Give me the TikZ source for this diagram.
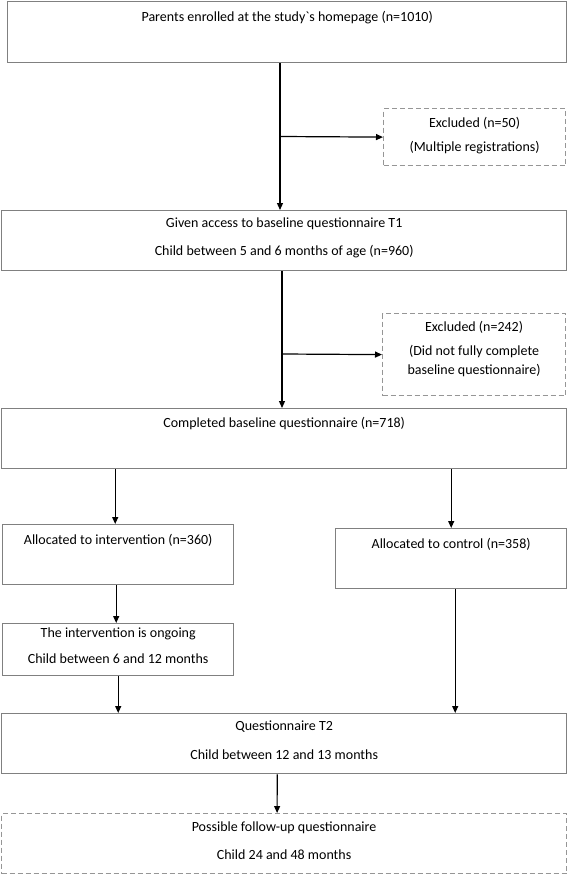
\documentclass[tikz,border=0pt]{standalone}
\usepackage{fontspec}
\setmainfont{Carlito}
\usepackage{tikz}
\usetikzlibrary{arrows.meta,positioning}
\definecolor{boxGray}{RGB}{128,128,128}
\definecolor{dashGray}{RGB}{150,150,150}

\begin{document}
\begin{tikzpicture}[x=1pt, y=-1pt,
  box/.style={draw=boxGray, line width=1.4pt, anchor=north west, inner sep=0pt},
  dbox/.style={draw=dashGray, line width=1.2pt, dash pattern=on 5pt off 3pt, anchor=north west, inner sep=0pt},
  lbl/.style={font=\fontsize{14}{16}\selectfont, inner sep=0pt},
  arr/.style={-{Triangle[length=7pt,width=6pt]}, line width=1.2pt}]
\useasboundingbox (0,0) rectangle (568,875);

\node[box, minimum width=559pt, minimum height=61pt] (enrol) at (7,1) {};
\node[lbl] (enrolT) at ([yshift=-17pt]enrol.north) {Parents enrolled at the study\textasciigrave s homepage (n=1010)};

\node[dbox, minimum width=182pt, minimum height=57pt] (excl1) at (383,108) {};
\node[lbl] (excl1A) at ([yshift=-15pt]excl1.north) {Excluded (n=50)};
\node[lbl] (excl1B) at ([yshift=-40pt]excl1.north) {(Multiple registrations)};

\node[box, minimum width=565pt, minimum height=60pt] (access) at (1,210) {};
\node[lbl] (accessA) at ([yshift=-14pt]access.north) {Given access to baseline questionnaire T1};
\node[lbl] (accessB) at ([yshift=-42pt]access.north) {Child between 5 and 6 months of age (n=960)};

\node[dbox, minimum width=183pt, minimum height=82pt] (excl2) at (382,313) {};
\node[lbl] (excl2A) at ([yshift=-14pt]excl2.north) {Excluded (n=242)};
\node[lbl] (excl2B) at ([yshift=-39pt]excl2.north) {(Did not fully complete};
\node[lbl] (excl2C) at ([yshift=-58pt]excl2.north) {baseline questionnaire)};

\node[box, minimum width=565pt, minimum height=60pt] (baseline) at (1,408) {};
\node[lbl] (baselineT) at ([yshift=-16pt]baseline.north) {Completed baseline questionnaire (n=718)};

\node[box, minimum width=231pt, minimum height=60pt] (interv) at (2,524) {};
\node[lbl] (intervT) at ([yshift=-16pt]interv.north) {Allocated to intervention (n=360)};

\node[box, minimum width=231pt, minimum height=60pt] (control) at (335,528) {};
\node[lbl] (controlT) at ([yshift=-16pt]control.north) {Allocated to control (n=358)};

\node[box, minimum width=231pt, minimum height=52pt] (ongoing) at (2,623) {};
\node[lbl] (ongoingA) at ([yshift=-11pt]ongoing.north) {The intervention is ongoing};
\node[lbl] (ongoingB) at ([yshift=-36pt]ongoing.north) {Child between 6 and 12 months};

\node[box, minimum width=565pt, minimum height=60pt] (quest2) at (1,713) {};
\node[lbl] (quest2A) at ([yshift=-14pt]quest2.north) {Questionnaire T2};
\node[lbl] (quest2B) at ([yshift=-42pt]quest2.north) {Child between 12 and 13 months};

\node[dbox, minimum width=565pt, minimum height=60pt] (follow) at (1,813) {};
\node[lbl] (followA) at ([yshift=-15pt]follow.north) {Possible follow-up questionnaire};
\node[lbl] (followB) at ([yshift=-42pt]follow.north) {Child 24 and 48 months};

% branch points of the exclusions
\coordinate (j1) at (280,136.5);
\coordinate (j2) at (282,354);

\draw[arr] (enrol.south -| j1) -- (access.north -| j1);
\draw[arr] (j1) -- (excl1.west);
\draw[arr] (access.south -| j2) -- (baseline.north -| j2);
\draw[arr] (j2) -- (excl2.west);
\draw[arr] ([xshift=-3pt]baseline.south -| interv.north) -- ([xshift=-3pt]interv.north);
\draw[arr] (baseline.south -| control.north) -- (control.north);
\draw[arr] ([xshift=-2pt]interv.south) -- ([xshift=-2pt]ongoing.north);
\draw[arr] (ongoing.south) -- (quest2.north -| ongoing.south);
\draw[arr] ([xshift=4pt]control.south) -- ([xshift=4pt]quest2.north -| control.south);
\draw[arr] ([xshift=-7pt]quest2.south) -- ([xshift=-7pt]follow.north);
\end{tikzpicture}
\end{document}
